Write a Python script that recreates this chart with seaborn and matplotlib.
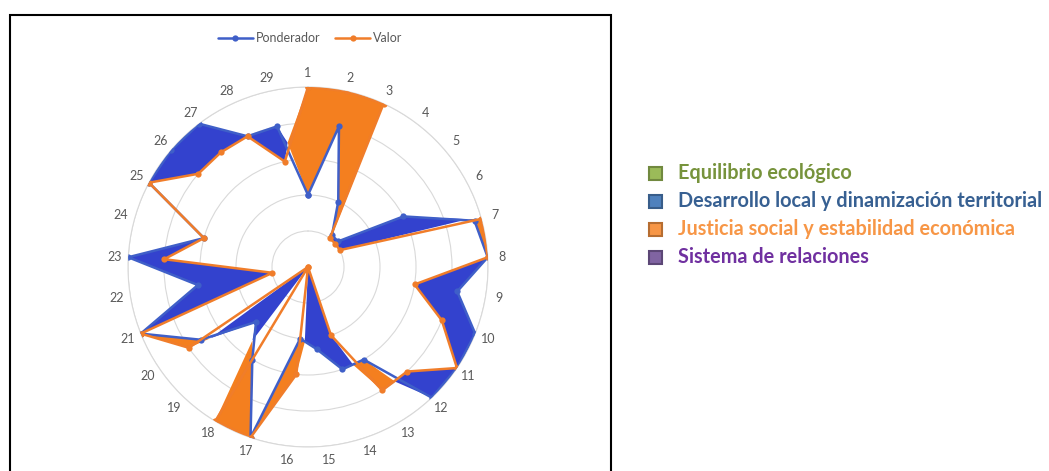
import numpy as np
import pandas as pd
import matplotlib
matplotlib.use("Agg")
import matplotlib.pyplot as plt
from matplotlib.patches import Rectangle
import seaborn as sns

# ---- data ----
categories = [str(i) for i in range(1, 30)]
ponderador = [2, 4, 2, 1.1, 1.1, 3, 4.8, 5, 4.2, 5, 5, 5, 3, 3, 2.3, 2, 5, 3, 2.1, 3.6,
              5, 3.1, 5, 3, 5, 5, 5, 4, 4]
valor = [5, 5, 5, 1, 1, 1, 5, 5, 3, 4, 5, 4, 4, 2, 0, 3, 5, 5, 0, 4,
         5, 1, 4, 3, 5, 4, 4, 4, 3]
series_names = ["Ponderador", "Valor"]
side_labels = ["Equilibrio ecológico",
               "Desarrollo local y dinamización territorial",
               "Justicia social y estabilidad económica",
               "Sistema de relaciones"]
side_text_colors = ["#77933C", "#376092", "#F79646", "#7030A0"]
side_fill_colors = ["#9BBB59", "#4F81BD", "#F79646", "#8064A2"]
side_edge_colors = ["#71893F", "#385D8A", "#B66D31", "#5C4776"]

sns.set_theme(style="white")
plt.rcParams["font.family"] = ["Lato", "DejaVu Sans"]

W, H = 1049, 471
fig = plt.figure(figsize=(W / 100, H / 100), dpi=100)
fig.patch.set_facecolor("white")

cx, cy, R = 308, 267, 180
ax = fig.add_axes([(cx - R) / W, (H - cy - R) / H, 2 * R / W, 2 * R / H],
                  projection="polar")

n = len(categories)
theta = np.linspace(0, 2 * np.pi, n, endpoint=False)
theta_c = np.append(theta, 2 * np.pi)
p_c = np.append(ponderador, ponderador[0])
v_c = np.append(valor, valor[0])

df = pd.DataFrame({"theta": np.concatenate([theta_c, theta_c]),
                   "value": np.concatenate([p_c, v_c]),
                   "serie": [series_names[0]] * len(theta_c) + [series_names[1]] * len(theta_c)})

blue_line = "#3F5FC8"
blue_fill = "#3342CE"
orange_line = "#F07D2A"
orange_fill = "#F47F1F"

ax.set_theta_zero_location("N")
ax.set_theta_direction(-1)

ax.fill_between(theta_c, p_c, v_c, where=p_c >= v_c, interpolate=True,
                color=blue_fill, lw=0, zorder=2)
ax.fill_between(theta_c, p_c, v_c, where=p_c <= v_c, interpolate=True,
                color=orange_fill, lw=0, zorder=2)

sns.lineplot(data=df[df.serie == series_names[0]], x="theta", y="value", ax=ax,
             sort=False, color=blue_line, lw=1.8, marker="o", markersize=4.5,
             markeredgewidth=0, label=series_names[0], zorder=3)
sns.lineplot(data=df[df.serie == series_names[1]], x="theta", y="value", ax=ax,
             sort=False, color=orange_line, lw=1.8, marker="o", markersize=4.5,
             markeredgewidth=0, label=series_names[1], zorder=4)

ax.set_ylim(0, 5)
ax.set_yticks([1, 2, 3, 4, 5])
ax.set_yticklabels([])
ax.set_xticks(theta)
ax.set_xticklabels(categories, fontsize=9, color="#595959")
ax.tick_params(axis="x", pad=-3)
ax.set_xlabel("")
ax.set_ylabel("")
ax.yaxis.grid(True, color="#D9D9D9", lw=0.8)
ax.xaxis.grid(False)
ax.spines["polar"].set_color("#D9D9D9")
ax.spines["polar"].set_linewidth(0.8)
ax.set_facecolor("white")

leg = ax.legend(loc="center", bbox_to_anchor=(310 / W, 1 - 38 / H),
                bbox_transform=fig.transFigure, ncol=2, frameon=False,
                fontsize=9, handlelength=2.8, columnspacing=1.2,
                handletextpad=0.2, labelcolor="#595959")

# frame around chart
fig.patches.append(Rectangle((10 / W, -0.1), 601 / W, 1.1 - 15 / H,
                             transform=fig.transFigure, fill=False,
                             edgecolor="black", lw=1.5, zorder=10))

# side legend
row_y = [173, 201, 229, 257]
for lab, tc, fc, ec, y in zip(side_labels, side_text_colors, side_fill_colors,
                              side_edge_colors, row_y):
    s = 13
    fig.patches.append(Rectangle((649 / W, (H - y - s / 2) / H), s / W, s / H,
                                 transform=fig.transFigure, facecolor=fc,
                                 edgecolor=ec, lw=1.5))
    fig.text(678 / W, (H - y) / H, lab, color=tc, fontsize=14.3,
             fontweight="bold", va="center", ha="left")

fig.savefig("out.png", dpi=100, facecolor="white")
